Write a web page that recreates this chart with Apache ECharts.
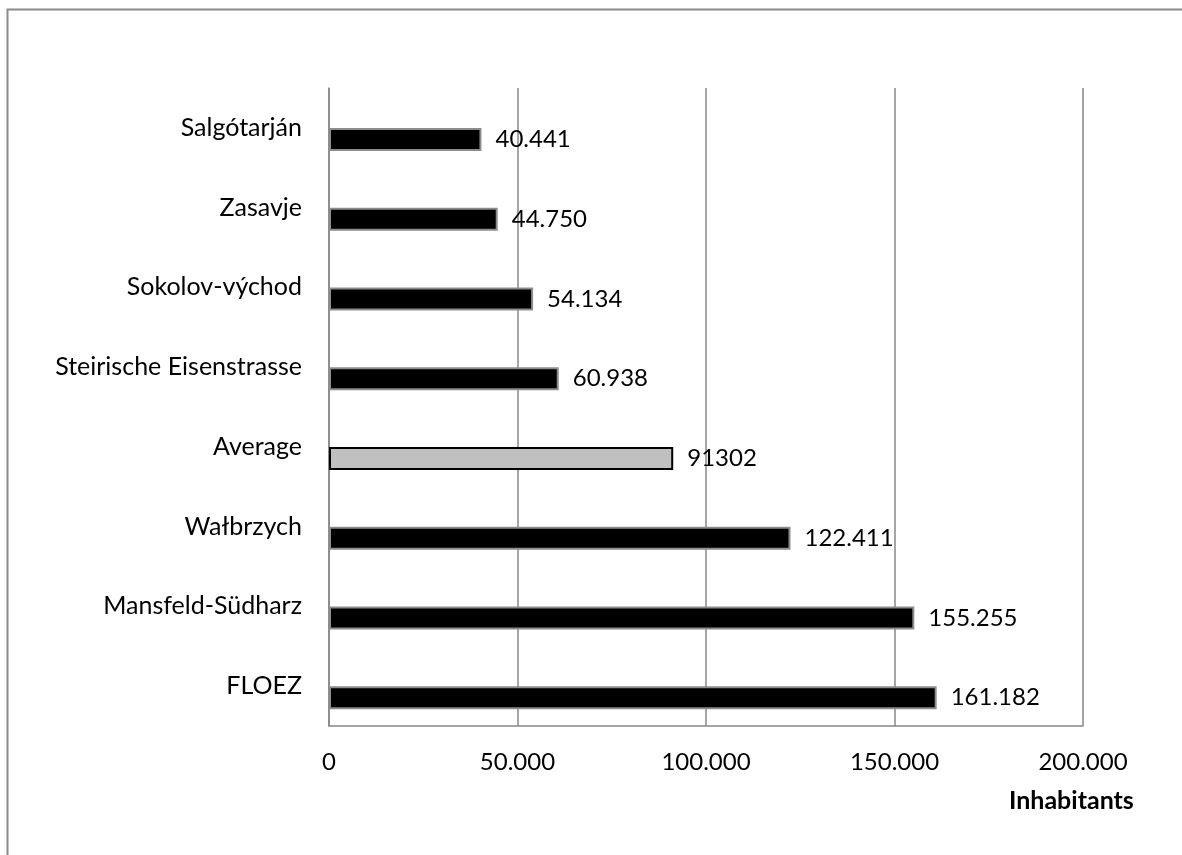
<!DOCTYPE html>
<html>
<head>
<meta charset="utf-8">
<title>Inhabitants by region</title>
<script src="https://cdn.jsdelivr.net/npm/echarts@6/dist/echarts.min.js"></script>
<style>
  html, body { margin: 0; padding: 0; background: #ffffff; }
  #chart { width: 1182px; height: 855px; }
</style>
</head>
<body>
<div id="chart"></div>
<script>
// Regions, listed bottom to top as they appear on the category axis
const regions = [
  'FLOEZ',
  'Mansfeld-Südharz',
  'Wałbrzych',
  'Average',
  'Steirische Eisenstrasse',
  'Sokolov-východ',
  'Zasavje',
  'Salgótarján'
];

// Number of inhabitants per region
const inhabitants = [161182, 155255, 122411, 91302, 60938, 54134, 44750, 40441];

// Value axis ticks
const axisMin = 0;
const axisMax = 200000;
const axisStep = 50000;

const axisTitle = 'Inhabitants';

const FONT = 'Lato, "Open Sans", sans-serif';
const GRID_GRAY = '#878787';

// Thousands separated with a dot, e.g. 150.000
function dotThousands(v) {
  return String(Math.round(v)).replace(/\B(?=(\d{3})+(?!\d))/g, '.');
}

const barData = inhabitants.map((v, i) => {
  const isAverage = regions[i] === 'Average';
  return {
    value: v,
    itemStyle: isAverage
      ? { color: '#c0c0c0', borderColor: '#000000', borderWidth: 2 }
      : { color: '#000000', borderColor: '#8c8c8c', borderWidth: 2 }
  };
});

const chart = echarts.init(document.getElementById('chart'), null, { renderer: 'canvas' });

chart.setOption({
  animation: false,
  backgroundColor: '#ffffff',
  textStyle: { fontFamily: FONT },
  // axis title sits under the right end of the value axis
  title: {
    text: axisTitle,
    left: 1009,
    top: 788,
    padding: 0,
    textStyle: { fontFamily: FONT, fontSize: 25, fontWeight: 'bold', color: '#000' }
  },
  graphic: [{
    type: 'rect',
    left: 5, top: 7,
    shape: { width: 1250, height: 900 },
    style: { fill: 'none', stroke: '#8a8a8a', lineWidth: 2 },
    silent: true
  }],
  grid: { left: 329, right: 99, top: 88, bottom: 129, containLabel: false },
  xAxis: {
    type: 'value',
    min: axisMin,
    max: axisMax,
    interval: axisStep,
    axisLine: { show: true, lineStyle: { color: GRID_GRAY, width: 1.5 } },
    axisTick: { show: false },
    axisLabel: {
      margin: 24,
      fontFamily: FONT, fontSize: 24, color: '#000',
      formatter: v => dotThousands(v)
    },
    splitLine: { show: true, lineStyle: { color: GRID_GRAY, width: 1.5 } }
  },
  yAxis: {
    type: 'category',
    data: regions,
    axisLine: { show: true, lineStyle: { color: GRID_GRAY, width: 1.5 } },
    axisTick: { show: false },
    axisLabel: { margin: 27, fontFamily: FONT, fontSize: 25, color: '#000' },
    splitLine: { show: false }
  },
  series: [
    {
      // empty companion series: keeps the inhabitant bars in the lower half of each band
      name: 'companion',
      type: 'bar',
      data: [],
      barWidth: 23,
      barGap: '0%'
    },
    {
      name: 'Inhabitants',
      type: 'bar',
      data: barData,
      barWidth: 23,
      barGap: '0%',
      label: {
        show: true,
        position: 'right',
        distance: 14,
        fontFamily: FONT,
        fontSize: 24,
        color: '#000',
        formatter: p => p.name === 'Average' ? String(p.value) : dotThousands(p.value)
      }
    }
  ]
});
</script>
</body>
</html>
